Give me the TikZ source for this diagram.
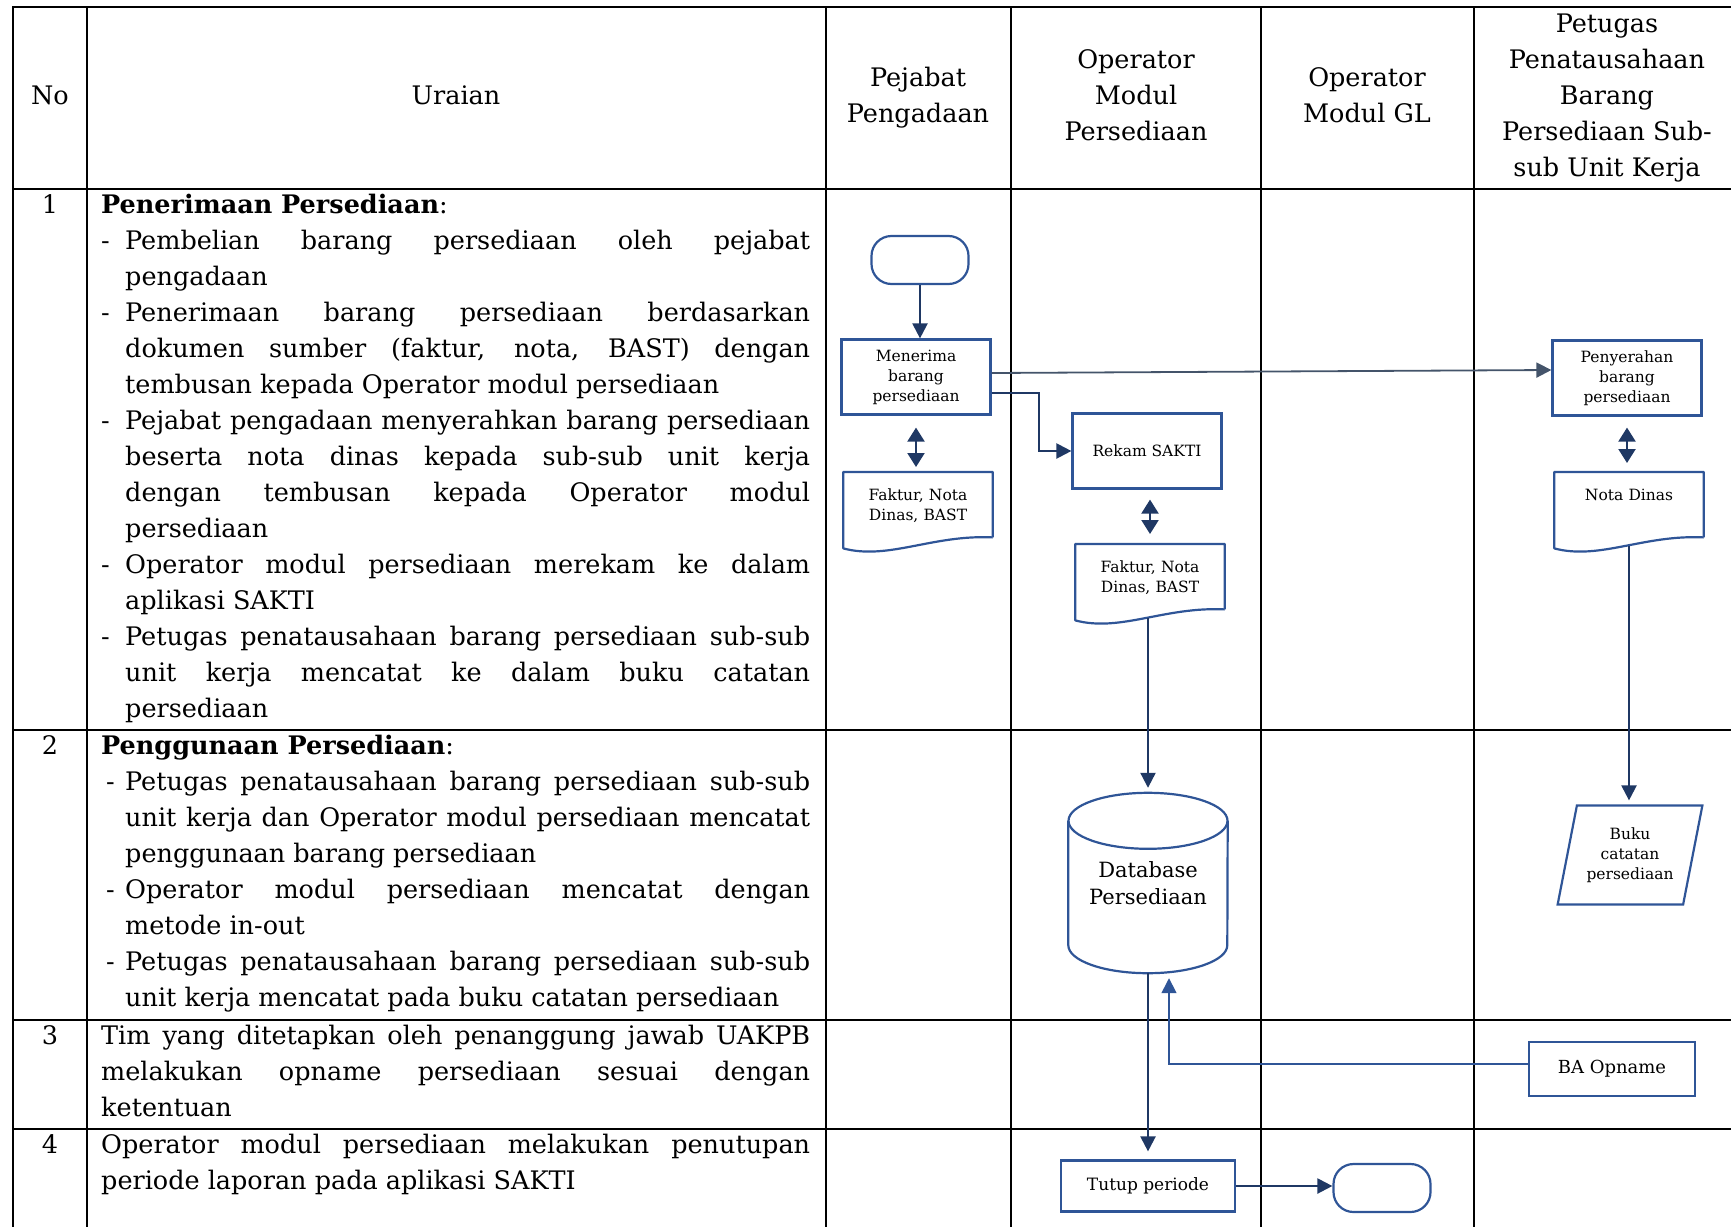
\documentclass[tikz,border=0pt]{standalone}
\usepackage{fontspec}
\setmainfont{DejaVu Serif}
\usetikzlibrary{arrows.meta,shapes.geometric,calc}
\definecolor{cbox}{HTML}{2F5597}
\definecolor{cnavy}{HTML}{1F3864}
\definecolor{cslate}{HTML}{44546A}
\newcommand{\bodyfont}{\fontsize{25.5}{36}\selectfont}
\newcommand{\boxfont}{\fontsize{15.5}{20}\selectfont}
\newcommand{\dashitem}[2][0pt]{\par\hangindent=24pt\hangafter=1\noindent\makebox[24pt][l]{\hspace{#1}-}#2\par}
% document symbol with a wavy lower edge
\newcommand{\docwave}[1]{%
  \draw[draw=cbox, line width=2.2pt, line join=round]
    ($(#1.south east)+(0,-9)$) -- (#1.north east) -- (#1.north west) -- ($(#1.south west)+(0,2)$)
    .. controls +(45,12) and +(-60,-3) .. ($(#1.south east)+(0,-9)$);}
% database drum round a node
\newcommand{\drum}[1]{%
  \draw[draw=cbox, line width=2.2pt]
    ($(#1.north west)+(0,28)$) -- ($(#1.south west)+(0,-28)$)
    arc[start angle=180, end angle=0, x radius=79.5, y radius=28]
    -- ($(#1.north east)+(0,28)$);
  \draw[draw=cbox, line width=2.2pt] ($(#1.north)+(0,28)$) ellipse [x radius=79.5, y radius=28];}
\tolerance=10000
\hbadness=10000

\begin{document}
\begin{tikzpicture}[
    x=1pt, y=-1pt,
    tabline/.style={line width=2.6pt, black, line cap=rect},
    headtxt/.style={font=\bodyfont, align=center, anchor=base, inner sep=0pt},
    desc/.style={font=\bodyfont, text width=709pt, inner sep=0pt, anchor=base west, align=justify},
    num/.style={font=\bodyfont, anchor=base, inner sep=0pt},
    proc/.style={draw=cbox, line width=2.2pt, minimum width=149pt, minimum height=75pt, align=center, font=\boxfont, inner sep=2pt},
    term/.style={draw=cbox, line width=2.2pt, rounded corners=20pt, minimum width=97pt, minimum height=48pt},
    docbox/.style={anchor=north, font=\boxfont, align=center, text width=140pt, inner xsep=4.5pt, inner ysep=0pt, text height=28pt, text depth=46pt},
    store/.style={minimum width=159pt, minimum height=180pt, align=center, font=\fontsize{21}{27}\selectfont},
    book/.style={trapezium, trapezium left angle=74, trapezium right angle=106, trapezium stretches=true, minimum width=145pt, minimum height=99pt, draw=cbox, line width=2.2pt, align=center, font=\boxfont, inner sep=0pt},
    flow/.style={draw=cnavy, line width=2.2pt, -{Triangle[length=15pt, width=15pt]}},
    twoway/.style={draw=cnavy, line width=2.2pt, {Triangle[length=14pt, width=17pt]}-{Triangle[length=14pt, width=17pt]}},
]
\useasboundingbox (0,0) rectangle (1731,1226);

% table rules
\draw[tabline] (13,7) -- (1731,7);
\foreach \y in {189,730,1020,1129} \draw[tabline] (13,\y) -- (1731,\y);
\foreach \x in {13,87,826,1011,1261,1474} \draw[tabline] (\x,7) -- (\x,1226);

% header row (base = last line)
\node[headtxt] (hno) at (50,104) {No};
\node[headtxt] (hura) at (456,104) {Uraian};
\node[headtxt] (hpej) at (918,122) {Pejabat\\Pengadaan};
\node[headtxt] (hopr) at (1136,140) {Operator\\Modul\\Persediaan};
\node[headtxt] (hogl) at (1367,122) {Operator\\Modul GL};
\node[headtxt] (hpet) at (1607,176) {Petugas\\Penatausahaan\\Barang\\Persediaan Sub-\\sub Unit Kerja};

% row 1: Penerimaan
\node[num] (n1) at (50,213) {1};
\node[desc] (u1) at (101,213) {\noindent\textbf{Penerimaan Persediaan}:
  \dashitem{Pembelian barang persediaan oleh pejabat\linebreak pengadaan}
  \dashitem{Penerimaan barang persediaan berdasarkan\linebreak dokumen sumber (faktur, nota, BAST) dengan\linebreak tembusan kepada Operator modul persediaan}
  \dashitem{Pejabat pengadaan menyerahkan barang persediaan\linebreak beserta nota dinas kepada sub-sub unit kerja\linebreak dengan tembusan kepada Operator modul\linebreak persediaan}
  \dashitem{Operator modul persediaan merekam ke dalam\linebreak aplikasi SAKTI}
  \dashitem{Petugas penatausahaan barang persediaan sub-sub\linebreak unit kerja mencatat ke dalam buku catatan\linebreak persediaan}};

% row 2: Penggunaan
\node[num] (n2) at (50,754) {2};
\node[desc] (u2) at (101,754) {\noindent\textbf{Penggunaan Persediaan}:
  \dashitem[5pt]{Petugas penatausahaan barang persediaan sub-sub\linebreak unit kerja dan Operator modul persediaan mencatat\linebreak penggunaan barang persediaan}
  \dashitem[5pt]{Operator modul persediaan mencatat dengan\linebreak metode in-out}
  \dashitem[5pt]{Petugas penatausahaan barang persediaan sub-sub\linebreak unit kerja mencatat pada buku catatan persediaan}};

% row 3 and row 4
\node[num] (n3) at (50,1044) {3};
\node[desc] (u3) at (101,1044) {Tim yang ditetapkan oleh penanggung jawab UAKPB\linebreak melakukan opname persediaan sesuai dengan\linebreak ketentuan};
\node[num] (n4) at (50,1153) {4};
\node[desc] (u4) at (101,1153) {Operator modul persediaan melakukan penutupan\linebreak periode laporan pada aplikasi SAKTI};

% Pejabat Pengadaan lane
\node[term] (mulai) at (920,260) {};
\node[proc] (terima) at (916,377) {Menerima\\barang\\persediaan};
\node[docbox] (fakta) at (918,472) {Faktur, Nota\\Dinas, BAST};
\docwave{fakta}

% Operator Modul Persediaan lane
\node[proc] (rekam) at (1147,451) {Rekam SAKTI};
\node[docbox] (faktb) at (1150,544) {Faktur, Nota\\Dinas, BAST};
\docwave{faktb}
\node[store] (dbase) at (1148,883) {Database\\Persediaan};
\drum{dbase}
\node[proc, minimum width=174pt, minimum height=51pt, font=\fontsize{17}{20}\selectfont] (tutup) at (1148,1186) {Tutup periode};
\node[term] (selesai) at (1382,1188) {};

% Petugas lane
\node[proc] (serah) at (1627,378) {Penyerahan\\barang\\persediaan};
\node[docbox] (nota) at (1629,472) {Nota Dinas};
\docwave{nota}
\node[book] (buku) at (1630,855) {Buku\\catatan\\persediaan};
\node[proc, minimum width=166pt, minimum height=54pt, font=\fontsize{18}{20}\selectfont] (opname) at (1612,1069) {BA Opname};

% connectors
\draw[flow] (mulai.south) -- (mulai.south |- terima.north);
\draw[twoway, shorten <=12pt, shorten >=5pt] (terima.south) -- (terima.south |- fakta.north);
\draw[draw=cslate, line width=1.8pt, -{Triangle[length=15pt, width=15pt]}] ([yshift=4pt]terima.east) -- ([yshift=8pt]serah.west);
\draw[flow] ([yshift=-16pt]terima.east) -- ++(47,0) |- (rekam.west);
\draw[twoway, shorten <=10pt, shorten >=10pt] (faktb.north |- rekam.south) -- (faktb.north);
\draw[flow, shorten >=5pt] (dbase.north |- faktb.south) -- (dbase.north);
\draw[flow, shorten >=8pt] (dbase.south) -- (dbase.south |- tutup.north);
\draw[flow] (tutup.east) -- (tutup.east -| selesai.west);
\draw[draw=cbox, line width=1.6pt, -{Triangle[length=15pt, width=15pt]}, shorten >=5pt] ([yshift=5pt]opname.west) -| ([xshift=21pt]dbase.south);
\draw[twoway, shorten <=11pt, shorten >=9pt] (serah.south) -- (serah.south |- nota.north);
\draw[flow, shorten >=4pt] (nota.south) -- (nota.south |- buku.north);

\end{tikzpicture}
\end{document}
